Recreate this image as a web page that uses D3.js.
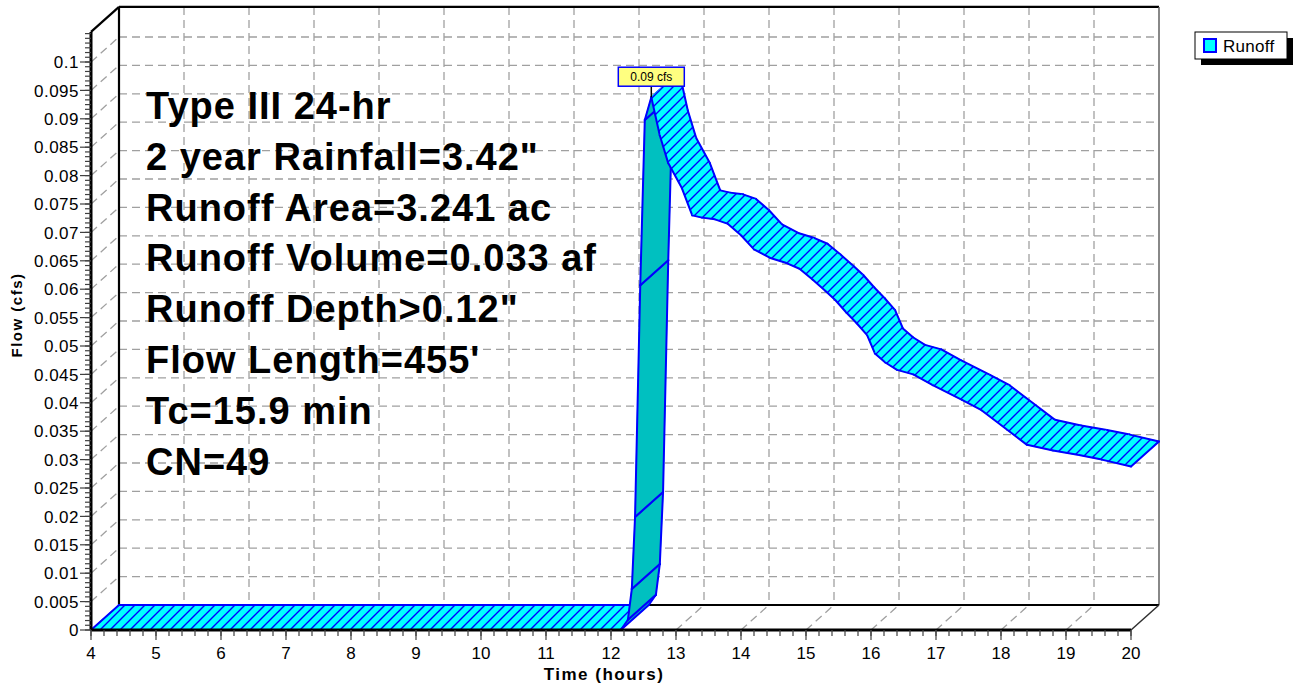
<!DOCTYPE html>
<html><head><meta charset="utf-8">
<script src="https://cdn.jsdelivr.net/npm/d3@7"></script>
<style>body{margin:0;background:#fff}svg{display:block}</style>
</head><body>
<svg id="chart" width="1294" height="685"></svg>
<script>
// ---- data ----
const times = [4.0, 12.15, 12.26, 12.32, 12.37, 12.45, 12.52, 12.62, 12.75, 12.88, 13.09, 13.25, 13.40, 13.60, 13.80, 14.00, 14.20, 14.45, 14.70, 14.90, 15.10, 15.30, 15.45, 15.62, 15.78, 15.94, 16.06, 16.22, 16.40, 16.65, 16.95, 17.40, 17.70, 18.10, 18.40, 18.80, 19.20, 19.55, 20.00];
const flows = [0, 0, 0.0018, 0.0072, 0.0199, 0.0607, 0.0898, 0.0938, 0.0871, 0.0822, 0.0778, 0.0730, 0.0726, 0.0723, 0.0715, 0.0695, 0.0670, 0.0655, 0.0646, 0.0636, 0.0617, 0.0597, 0.0581, 0.0559, 0.0540, 0.0519, 0.0487, 0.0471, 0.0458, 0.0450, 0.0431, 0.0405, 0.0387, 0.0352, 0.0326, 0.0316, 0.0308, 0.0300, 0.0288];
const xTickLabels = ["4","5","6","7","8","9","10","11","12","13","14","15","16","17","18","19","20"];
const yTickLabels = ["0","0.005","0.01","0.015","0.02","0.025","0.03","0.035","0.04","0.045","0.05","0.055","0.06","0.065","0.07","0.075","0.08","0.085","0.09","0.095","0.1"];
const infoLines = ["Type III 24-hr", "2 year Rainfall=3.42\"", "Runoff Area=3.241 ac", "Runoff Volume=0.033 af", "Runoff Depth>0.12\"", "Flow Length=455'", "Tc=15.9 min", "CN=49"];
const seriesName = "Runoff";
const peakLabel = "0.09 cfs";
const xTitle = "Time  (hours)";
const yTitle = "Flow  (cfs)";

// ---- layout ----
const svg = d3.select("#chart");
const x = d3.scaleLinear().domain([4, 20]).range([91, 1131]);
const y = d3.scaleLinear().domain([0, 0.1]).range([630, 62]);
const yMax = 0.1053;
const DX = 28, DY = -25;
const FONT = "'Liberation Sans', Arial, Helvetica, sans-serif";

const defs = svg.append("defs");
const pat = defs.append("pattern").attr("id", "hatch").attr("patternUnits", "userSpaceOnUse")
  .attr("width", 10).attr("height", 10);
pat.append("rect").attr("width", 10).attr("height", 10).attr("fill", "#00ffff");
pat.append("path").attr("d", "M0,10 L10,0 M-3,3 L3,-3 M7,13 L13,7")
  .attr("stroke", "#0000ff").attr("stroke-width", 1.4);

const xVals = xTickLabels.map(Number);
const yVals = yTickLabels.map(Number);

// ---- grid ----
const grid = svg.append("g").attr("stroke", "#a0a0a0").attr("stroke-width", 1.3)
  .attr("stroke-dasharray", "8,5").attr("fill", "none");
yVals.filter(v => v > 0).forEach(v => {
  grid.append("line").attr("x1", x(4) + DX).attr("x2", x(20) + DX)
    .attr("y1", y(v) + DY).attr("y2", y(v) + DY);
  grid.append("line").attr("x1", x(4)).attr("y1", y(v))
    .attr("x2", x(4) + DX).attr("y2", y(v) + DY);
});
xVals.filter(h => h > 4 && h < 20).forEach(h => {
  grid.append("line").attr("x1", x(h) + DX).attr("x2", x(h) + DX)
    .attr("y1", y(yMax) + DY).attr("y2", y(0) + DY);
  grid.append("line").attr("x1", x(h)).attr("y1", y(0))
    .attr("x2", x(h) + DX).attr("y2", y(0) + DY);
});

// ---- frame ----
const frame = svg.append("g").attr("fill", "none");
frame.append("line").attr("x1", x(4) + DX).attr("x2", x(4) + DX).attr("y1", y(yMax) + DY).attr("y2", y(0) + DY)
  .attr("stroke", "#000").attr("stroke-width", 2.2);
frame.append("line").attr("x1", x(4) + DX).attr("x2", x(20) + DX).attr("y1", y(yMax) + DY).attr("y2", y(yMax) + DY)
  .attr("stroke", "#000").attr("stroke-width", 2.2);
frame.append("line").attr("x1", x(4)).attr("y1", y(yMax)).attr("x2", x(4) + DX).attr("y2", y(yMax) + DY)
  .attr("stroke", "#000").attr("stroke-width", 2.2);
frame.append("line").attr("x1", x(20) + DX).attr("x2", x(20) + DX).attr("y1", y(yMax) + DY).attr("y2", y(0) + DY)
  .attr("stroke", "#606060").attr("stroke-width", 1.5);
frame.append("line").attr("x1", x(4) + DX).attr("x2", x(20) + DX).attr("y1", y(0) + DY).attr("y2", y(0) + DY)
  .attr("stroke", "#000").attr("stroke-width", 2.2);
frame.append("line").attr("x1", x(20)).attr("y1", y(0)).attr("x2", x(20) + DX).attr("y2", y(0) + DY)
  .attr("stroke", "#303030").attr("stroke-width", 1.5);

// ---- info text ----
const info = svg.append("g").attr("font-family", FONT).attr("font-weight", "bold")
  .attr("font-size", 38).attr("letter-spacing", 1).attr("fill", "#000");
infoLines.forEach((t, i) => {
  info.append("text").attr("x", 146).attr("y", 119 + i * 50.8).text(t);
});

// ---- series ribbon ----
const pts = times.map((t, i) => [x(t), y(flows[i])]);
const back = p => [p[0] + DX, p[1] + DY];
const ribbon = svg.append("g").attr("stroke-linejoin", "round").attr("stroke-linecap", "round");
const seg = (g, p, q) => g.append("line").attr("x1", p[0]).attr("y1", p[1]).attr("x2", q[0]).attr("y2", q[1])
  .attr("stroke", "#0000ff").attr("stroke-width", 2);
for (let i = 0; i < pts.length - 1; i++) {
  const a = pts[i], b = pts[i + 1];
  const cross = (b[0] - a[0]) * DY - (b[1] - a[1]) * DX;
  const dark = cross > 0;
  const quad = [a, b, back(b), back(a)];
  const fill = dark ? "#00c0c0" : "url(#hatch)";
  ribbon.append("path").attr("d", d3.line()(quad) + "Z")
    .attr("fill", fill).attr("stroke", fill).attr("stroke-width", 1);
  seg(ribbon, a, b);
  seg(ribbon, back(a), back(b));
  if (dark || i === 0) seg(ribbon, a, back(a));
  if (dark || i === pts.length - 2) seg(ribbon, b, back(b));
}

// ---- axes ----
const axes = svg.append("g");
axes.append("line").attr("x1", x(4)).attr("x2", x(4)).attr("y1", y(yMax)).attr("y2", y(0))
  .attr("stroke", "#000").attr("stroke-width", 3);
axes.append("line").attr("x1", x(4)).attr("x2", x(20)).attr("y1", y(0)).attr("y2", y(0))
  .attr("stroke", "#000").attr("stroke-width", 3);
const tk = axes.append("g").attr("stroke", "#404040").attr("stroke-width", 1.2);
const yMinor = d3.range(0, yMax, 0.005 / 6);
yMinor.forEach(v => {
  tk.append("line").attr("x1", x(4) - 6).attr("x2", x(4)).attr("y1", y(v)).attr("y2", y(v));
});
yVals.forEach(v => {
  tk.append("line").attr("x1", x(4) - 11).attr("x2", x(4)).attr("y1", y(v)).attr("y2", y(v));
});
d3.range(4, 20.001, 0.2).forEach(h => {
  tk.append("line").attr("x1", x(h)).attr("x2", x(h)).attr("y1", y(0)).attr("y2", y(0) + 6);
});
xVals.forEach(h => {
  tk.append("line").attr("x1", x(h)).attr("x2", x(h)).attr("y1", y(0)).attr("y2", y(0) + 10);
});
const lab = axes.append("g").attr("font-family", FONT).attr("font-size", 17).attr("fill", "#000");
yTickLabels.forEach((t, i) => {
  lab.append("text").attr("x", 79).attr("y", y(yVals[i])).attr("dy", "0.36em")
    .attr("text-anchor", "end").attr("letter-spacing", 0.5).text(t);
});
xTickLabels.forEach((t, i) => {
  lab.append("text").attr("x", x(xVals[i])).attr("y", 659).attr("text-anchor", "middle").text(t);
});
axes.append("text").attr("x", 604).attr("y", 680).attr("text-anchor", "middle")
  .attr("font-family", FONT).attr("font-weight", "bold").attr("font-size", 17).attr("letter-spacing", 1.5)
  .text(xTitle);
axes.append("text").attr("transform", "translate(22,315) rotate(-90)").attr("text-anchor", "middle")
  .attr("font-family", FONT).attr("font-weight", "bold").attr("font-size", 15).attr("letter-spacing", 1.5)
  .text(yTitle);

// ---- peak label ----
const pi = d3.maxIndex(flows);
const px = x(times[pi]), py = y(flows[pi]);
const pk = svg.append("g");
pk.append("line").attr("x1", px).attr("x2", px).attr("y1", py - 11).attr("y2", py)
  .attr("stroke", "#000").attr("stroke-width", 1.5);
pk.append("rect").attr("x", px - 33).attr("y", py - 30).attr("width", 66).attr("height", 19)
  .attr("fill", "#ffff80").attr("stroke", "#0000ff").attr("stroke-width", 1.5);
pk.append("text").attr("x", px).attr("y", py - 16).attr("text-anchor", "middle")
  .attr("font-family", FONT).attr("font-size", 12).text(peakLabel);

// ---- legend ----
const lg = svg.append("g");
lg.append("rect").attr("x", 1201).attr("y", 38).attr("width", 92).attr("height", 27).attr("fill", "#000");
lg.append("rect").attr("x", 1195).attr("y", 32).attr("width", 92).attr("height", 27)
  .attr("fill", "#fff").attr("stroke", "#000").attr("stroke-width", 1);
lg.append("rect").attr("x", 1204).attr("y", 39).attr("width", 12).attr("height", 13)
  .attr("fill", "#00ffff").attr("stroke", "#0000ff").attr("stroke-width", 2);
lg.append("text").attr("x", 1223).attr("y", 52).attr("font-family", FONT).attr("font-size", 17)
  .attr("letter-spacing", 0.3).text(seriesName);
</script>
</body></html>
